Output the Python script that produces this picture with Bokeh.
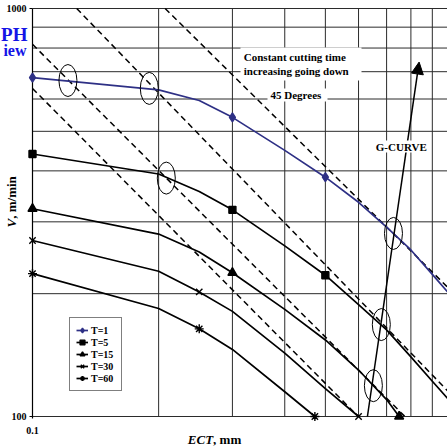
import math
from bokeh.plotting import figure
from bokeh.models import (Range1d, Label, BoxAnnotation, Arrow, NormalHead,
                          Legend, LegendItem)
from bokeh.embed import file_html
from bokeh.resources import INLINE

# ---------------- data ----------------
ect_t1 = [0.1, 0.2, 0.25, 0.3, 0.4, 0.5, 0.6, 0.7, 0.8, 0.9, 1.0]
v_t1 = [677, 632, 595, 541, 449, 386, 335, 291, 256, 223, 197]
mark_t1 = [0, 3, 5]

ect_t5 = [0.1, 0.2, 0.25, 0.3, 0.4, 0.5, 0.6, 0.7, 0.8, 0.9, 1.0]
v_t5 = [440, 393, 356, 321, 262, 222, 188, 163, 140, 122, 108]
mark_t5 = [0, 3, 5]

ect_t15 = [0.1, 0.2, 0.25, 0.3, 0.4, 0.5, 0.6, 0.7, 0.75]
v_t15 = [323, 280, 253, 225, 183, 154, 130, 110, 100]
mark_t15 = [0, 3, 8]

ect_t30 = [0.1, 0.2, 0.25, 0.3, 0.4, 0.5, 0.6]
v_t30 = [270, 227, 202, 181, 143, 117, 100]
mark_t30 = [0, 2, 6]

ect_t60 = [0.1, 0.2, 0.25, 0.3, 0.4, 0.472]
v_t60 = [224, 184, 164, 146, 115, 100]
mark_t60 = [0, 2, 5]

series_labels = ["T=1", "T=5", "T=15", "T=30", "T=60"]

# constant cutting time lines (45 degrees)
ctt_ect_start = [0.1, 0.1, 0.1275, 0.2073]
ctt_v_start = [637, 817, 1000, 1000]
ctt_ect_end = [0.599, 0.774, 1.0, 1.0]
ctt_v_end = [100, 100, 113, 203]

# G-curve (arrow)
g_ect = [0.630, 0.837]
g_v = [100, 739]

# circled intersections
ring_ect = [0.1215, 0.190, 0.2086, 0.727, 0.680, 0.651]
ring_v = [666, 637, 384, 281, 168, 119]

# grid / ticks
grid_ect = [0.2, 0.3, 0.4, 0.5, 0.6, 0.7, 0.8, 0.9, 1.0]
grid_v = [100, 200, 300, 400, 500, 600, 700, 800, 900, 1000]
x_tick_values = [0.1]
x_tick_labels = ["0.1"]
y_tick_values = [100, 1000]
y_tick_labels = ["100", "1000"]

# ---------------- layout helpers (canvas pixel -> data) ----------------
def px_x(px):
    return 10 ** (-1 + (px - 32) / 419.0)

def px_y(py):
    return 10 ** (2 + (416 - py) / 408.0)

SERIF = "Liberation Serif"
NAVY = "#2E3085"
GRID = "#2b2b2b"

p = figure(width=447, height=447, x_axis_type="log", y_axis_type="log",
           x_range=Range1d(px_x(0), px_x(447)), y_range=Range1d(px_y(447), px_y(0)),
           x_axis_location=None, y_axis_location=None,
           min_border_left=0, min_border_right=0, min_border_top=0, min_border_bottom=0,
           toolbar_location=None, output_backend="svg")
p.outline_line_color = None
p.grid.visible = False
p.background_fill_color = "white"

x_lo, x_hi = min(x_tick_values), max(grid_ect)
v_lo, v_hi = min(grid_v), max(grid_v)

# grid lines
p.segment(x0=[x_lo] * len(grid_v), y0=grid_v, x1=[x_hi] * len(grid_v), y1=grid_v,
          line_color=GRID, line_width=1)
p.segment(x0=grid_ect, y0=[v_lo] * len(grid_ect), x1=grid_ect,
          y1=[v_hi] * len(grid_ect), line_color=GRID, line_width=1)

# left axis line and ticks
p.segment(x0=[x_lo], y0=[px_y(418)], x1=[x_lo], y1=[v_hi], line_color="black", line_width=1.2)
p.segment(x0=[px_x(29)] * len(y_tick_values), y0=y_tick_values,
          x1=[x_lo] * len(y_tick_values), y1=y_tick_values, line_color="black", line_width=1)

# constant-time dashed lines
p.segment(x0=ctt_ect_start, y0=ctt_v_start, x1=ctt_ect_end, y1=ctt_v_end,
          line_color="black", line_width=1.5, line_dash="6 4")

items = []
def series(ect, v, idx, color, marker, size, label):
    lr = p.line(ect, v, line_color=color, line_width=1.7)
    mr = p.scatter([ect[i] for i in idx], [v[i] for i in idx], marker=marker, size=size,
                   fill_color=color, line_color=color, line_width=1.4)
    items.append(LegendItem(label=label, renderers=[lr, mr]))

series(ect_t1, v_t1, mark_t1, NAVY, "diamond", 9, series_labels[0])
series(ect_t5, v_t5, mark_t5, "black", "square", 7, series_labels[1])
series(ect_t15, v_t15, mark_t15, "black", "triangle", 9, series_labels[2])
series(ect_t30, v_t30, mark_t30, "black", "x", 9, series_labels[3])
series(ect_t60, v_t60, mark_t60, "black", "asterisk", 9, series_labels[4])

# circled intersections
p.ellipse(x=ring_ect, y=ring_v, width=18, height=32, width_units="screen",
          height_units="screen", fill_color=None, line_color="black", line_width=1)

# G-curve arrow
p.add_layout(Arrow(x_start=g_ect[0], y_start=g_v[0], x_end=g_ect[1], y_end=g_v[1],
                   line_color="black", line_width=1.5,
                   end=NormalHead(size=12, fill_color="black", line_color="black")))

# white boxes behind texts
for l, r, t, b in [(240, 361, 47, 80), (267, 327, 88, 101), (372, 430, 140, 152)]:
    p.add_layout(BoxAnnotation(left=px_x(l), right=px_x(r), top=px_y(t), bottom=px_y(b),
                               fill_color="white", fill_alpha=1, line_color=None,
                               level="annotation"))

def label(px, py, text, size, style="bold", align="left", color="black", angle=0,
          x=None, y=None):
    p.add_layout(Label(x=px_x(px) if x is None else x, y=px_y(py) if y is None else y,
                       text=text, text_font=SERIF,
                       text_font_size=size, text_font_style=style, text_color=color,
                       text_align=align, text_baseline="middle", angle=angle))

# (positions are the vertical middles of the texts)
label(243.3, 56.6, "Constant cutting time", "11px")
label(243.3, 70.3, "increasing going down", "11px")
label(270.0, 94.6, "45 Degrees", "11px")
label(375.3, 146.3, "G-CURVE", "11px")

# tick labels
for v, t in zip(y_tick_values, y_tick_labels):
    label(26, 0, t, "10px", align="right", y=v)
for xv, t in zip(x_tick_values, x_tick_labels):
    label(0, 430.3, t, "10px", align="center", x=xv)

# fragments of blue titles at left edge
label(27, 34.0, "PH", "19px", color="#1414E6", align="right")
label(26, 50.1, "iew", "16px", color="#1414E6", align="right")

# axis titles
label(187.3, 438.9, "ECT", "13px", style="bold italic")
label(212.6, 438.9, ", mm", "13px")
label(10.6, 227, "V", "13px", style="bold italic", angle=math.pi / 2)
label(10.6, 218.3, ", m/min", "13px", angle=math.pi / 2)

legend = Legend(items=items, location=(69, 56), orientation="vertical",
                label_text_font=SERIF, label_text_font_style="bold",
                label_text_font_size="10px", label_text_color="black",
                glyph_width=12, glyph_height=12, label_height=12, label_width=24,
                label_standoff=3, spacing=0, padding=6, margin=0,
                border_line_color="black", border_line_width=1,
                background_fill_color="white", background_fill_alpha=1)
p.add_layout(legend)

open("out.html", "w").write(file_html(p, INLINE))
